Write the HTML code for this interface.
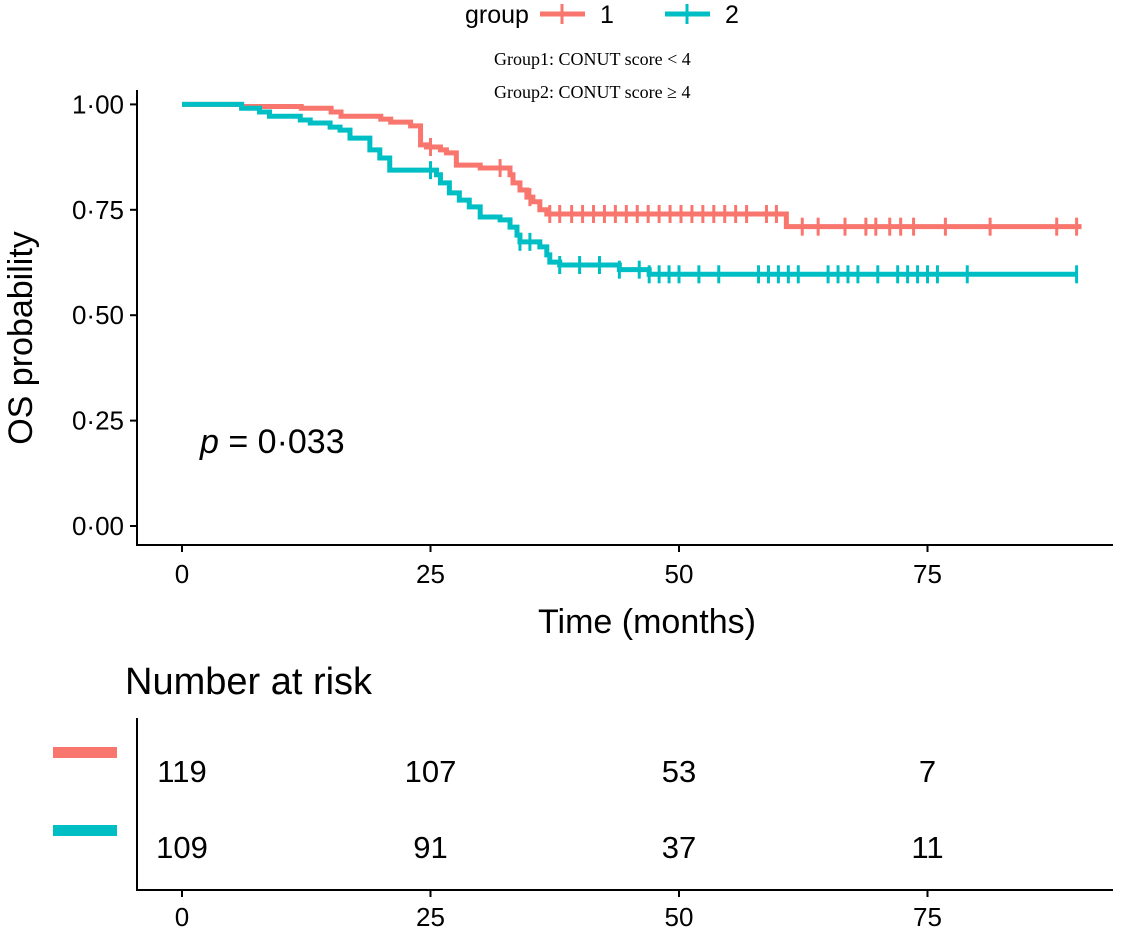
<!DOCTYPE html>
<html><head><meta charset="utf-8"><style>
body{margin:0;background:#fff;}
svg text{font-family:"Liberation Sans",sans-serif;}
</style></head><body>
<svg id="c" width="1121" height="929" xmlns="http://www.w3.org/2000/svg">
<g id="plot"></g>
</svg>
<script>
const xTicks=[0,25,50,75];
const yTicks=[0,0.25,0.5,0.75,1];
const yTickLabels=["0·00","0·25","0·50","0·75","1·00"];
const g1Times=[0,6,12,15,16,20,21,23,24,24.6,26,26.6,27.6,30,33,33.3,34,34.7,35.3,36,36.7,60.8,90.5];
const g1Surv=[1,0.995,0.991,0.982,0.972,0.965,0.958,0.949,0.904,0.899,0.892,0.885,0.856,0.849,0.833,0.814,0.797,0.780,0.769,0.750,0.740,0.710,0.710];
const g2Times=[0,6,7.8,8.8,11.9,12.9,14.9,15.9,16.9,18.9,19.9,20.9,25.6,26,26.9,27.9,28.9,30,32,33,33.7,34,36,36.7,37,38,44,47,90];
const g2Surv=[1,0.991,0.982,0.972,0.963,0.956,0.946,0.939,0.920,0.892,0.873,0.844,0.833,0.814,0.790,0.773,0.757,0.733,0.726,0.709,0.690,0.674,0.662,0.643,0.626,0.619,0.608,0.597,0.597];
const g1Censor=[25,32,35,37,38,39.2,40.3,41.4,42.5,43.6,44.7,45.8,46.9,48,49.1,50.2,51.3,52.4,53.5,54.6,55.7,56.8,58.8,59.8,62.4,64,66.7,68.8,69.8,71.2,72.3,73.6,76.8,81.3,88,90];
const g2Censor=[25,34,35,38,40,42,44,46,47,48,49,50,52,54,58,59,60,61,62,65,66,67,68,70,72,73,74,75,76,79,90];
const risk1=[119,107,53,7];
const risk2=[109,91,37,11];
const c1="#F8766D",c2="#00BFC4";
const X=t=>182+t*9.94, Y=s=>526-s*421.6;
const svg=document.getElementById('plot');
const NS="http://www.w3.org/2000/svg";
function mk(tag,attrs,txt){const e=document.createElementNS(NS,tag);for(const k in attrs)e.setAttribute(k,attrs[k]);if(txt!==undefined)e.textContent=txt;svg.appendChild(e);return e;}
let e=mk('line',{x1:137,y1:90,x2:137,y2:546,stroke:'#000','stroke-width':2});


e=mk('line',{x1:136,y1:545,x2:1113,y2:545,stroke:'#000','stroke-width':2});


yTicks.forEach((v,i)=>{
 mk('line',{x1:130,x2:137,y1:Y(v),y2:Y(v),stroke:'#000','stroke-width':2});
 const t=mk('text',{x:124,y:Y(v)+9,'text-anchor':'end','font-size':26},yTickLabels[i]);
 
 
});
xTicks.forEach(v=>{
 mk('line',{x1:X(v),x2:X(v),y1:545,y2:552,stroke:'#000','stroke-width':2});
 const t=mk('text',{x:X(v),y:583,'text-anchor':'middle','font-size':26},v);
 
 
 mk('line',{x1:X(v),x2:X(v),y1:890,y2:897,stroke:'#000','stroke-width':2});
 const t2=mk('text',{x:X(v),y:926,'text-anchor':'middle','font-size':26},v);
 
 
});
e=mk('text',{x:647,y:633,'text-anchor':'middle','font-size':34},'Time (months)');


e=mk('text',{x:32,y:338,'text-anchor':'middle','font-size':34,transform:'rotate(-90 32 338)'},'OS  probability');


e=mk('text',{x:200,y:453,'font-size':34},'');
e.innerHTML='<tspan font-style="italic">p</tspan> = 0·033';


function curve(ts,ss,col,name){
 let d='M'+X(ts[0])+','+Y(ss[0]);
 for(let i=1;i<ts.length;i++){d+=' H'+X(ts[i])+' V'+Y(ss[i]);}
 const p=mk('path',{d:d,fill:'none',stroke:col,'stroke-width':5});
 
 
}
function survAt(ts,ss,t){let s=ss[0];for(let i=0;i<ts.length;i++){if(ts[i]<=t)s=ss[i];}return s;}
function censors(cs,ts,ss,col,name){
 cs.forEach(t=>{const s=survAt(ts,ss,t);
  const l=mk('line',{x1:X(t),x2:X(t),y1:Y(s)-9,y2:Y(s)+9,stroke:col,'stroke-width':3});
  
  
 });
}
curve(g1Times,g1Surv,c1,'curve-group-1');
curve(g2Times,g2Surv,c2,'curve-group-2');
censors(g1Censor,g1Times,g1Surv,c1,'censor-mark-group-1');
censors(g2Censor,g2Times,g2Surv,c2,'censor-mark-group-2');
e=mk('text',{x:465,y:23,'font-size':25},'group');


[[c1,'1',540],[c2,'2',665]].forEach(([c,l,x])=>{
 mk('line',{x1:x,x2:x+45,y1:14,y2:14,stroke:c,'stroke-width':5});
 mk('line',{x1:x+22,x2:x+22,y1:4,y2:24,stroke:c,'stroke-width':3});
 const t=mk('text',{x:x+60,y:23,'font-size':25},l);
 
 
});
e=mk('text',{x:494,y:65,'font-size':18,style:'font-family:"Liberation Serif",serif'},'Group1: CONUT score < 4');


e=mk('text',{x:494,y:98,'font-size':18,style:'font-family:"Liberation Serif",serif'},'Group2: CONUT score ≥ 4');


e=mk('text',{x:125,y:694,'font-size':38},'Number at risk');


mk('line',{x1:137,y1:718,x2:137,y2:891,stroke:'#000','stroke-width':2});
mk('line',{x1:136,y1:890,x2:1113,y2:890,stroke:'#000','stroke-width':2});
mk('rect',{x:53,y:747,width:64,height:11,fill:c1});
mk('rect',{x:53,y:825,width:64,height:11,fill:c2});
risk1.forEach((v,i)=>{const t=mk('text',{x:X(xTicks[i]),y:782,'text-anchor':'middle','font-size':31},v);
 
 });
risk2.forEach((v,i)=>{const t=mk('text',{x:X(xTicks[i]),y:858,'text-anchor':'middle','font-size':31},v);
 
 });
</script>
</body></html>
